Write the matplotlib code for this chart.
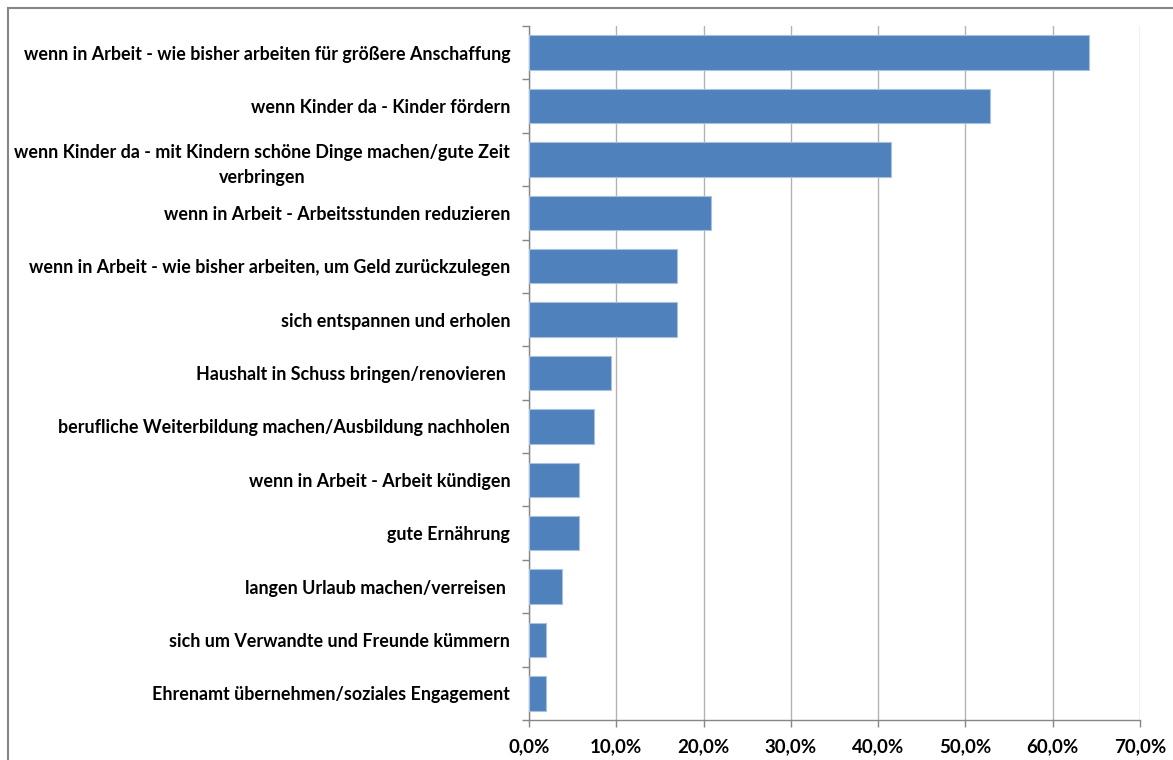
import matplotlib
matplotlib.use("Agg")
import matplotlib.pyplot as plt
import numpy as np
from matplotlib.lines import Line2D

# Antworten (von oben nach unten) und Anteile in Prozent
antworten = [
    "wenn in Arbeit - wie bisher arbeiten für größere Anschaffung",
    "wenn Kinder da - Kinder fördern",
    "wenn Kinder da - mit Kindern schöne Dinge machen/gute Zeit\nverbringen",
    "wenn in Arbeit - Arbeitsstunden reduzieren",
    "wenn in Arbeit - wie bisher arbeiten, um Geld zurückzulegen",
    "sich entspannen und erholen",
    "Haushalt in Schuss bringen/renovieren ",
    "berufliche Weiterbildung machen/Ausbildung nachholen",
    "wenn in Arbeit - Arbeit kündigen",
    "gute Ernährung",
    "langen Urlaub machen/verreisen ",
    "sich um Verwandte und Freunde kümmern",
    "Ehrenamt übernehmen/soziales Engagement",
]
anteile = [64.2, 52.8, 41.5, 20.8, 17.0, 17.0, 9.4, 7.5, 5.7, 5.7, 3.8, 1.9, 1.9]
x_ticks = [0, 10, 20, 30, 40, 50, 60, 70]
x_labels = ["0,0%", "10,0%", "20,0%", "30,0%", "40,0%", "50,0%", "60,0%", "70,0%"]

plt.rcParams["font.family"] = ["Lato", "DejaVu Sans"]
grau = "#868686"

fig = plt.figure(figsize=(11.73, 7.6), dpi=100)
ax = fig.add_axes([529 / 1173, 1 - 720 / 760, (1140 - 529) / 1173, (720 - 26) / 760])

n = len(antworten)
pos = np.arange(n)
ax.barh(pos, anteile, height=0.645, color="#4F81BD", edgecolor="#A9C0DE",
        linewidth=0.8, zorder=3)

ax.set_ylim(n - 0.5, -0.5)
ax.set_xlim(0, 70)

ax.set_yticks(pos)
ax.set_yticklabels(antworten, fontsize=12.9, fontweight="bold",
                   multialignment="center", linespacing=1.55)
ax.set_yticks(np.arange(n + 1) - 0.5, minor=True)
ax.tick_params(axis="y", which="major", length=0, pad=13.5)
ax.tick_params(axis="y", which="minor", length=5, color=grau, width=1)

ax.set_xticks(x_ticks)
ax.set_xticklabels(x_labels, fontsize=13.5, fontweight="bold")
ax.tick_params(axis="x", length=5, color=grau, width=1, pad=8)

ax.grid(axis="x", color="#B3B3B3", linewidth=1, zorder=0)
for side in ("top", "right"):
    ax.spines[side].set_visible(False)
for side in ("left", "bottom"):
    ax.spines[side].set_color(grau)
    ax.spines[side].set_linewidth(1)

# Rahmen um das Diagramm
fig.add_artist(Line2D([8 / 1173, 1.0], [1 - 8 / 760, 1 - 8 / 760],
                      transform=fig.transFigure, color=grau, linewidth=1.5))
fig.add_artist(Line2D([8 / 1173, 8 / 1173], [0.0, 1 - 8 / 760],
                      transform=fig.transFigure, color=grau, linewidth=1.5))

fig.savefig("out.png", dpi=100)
